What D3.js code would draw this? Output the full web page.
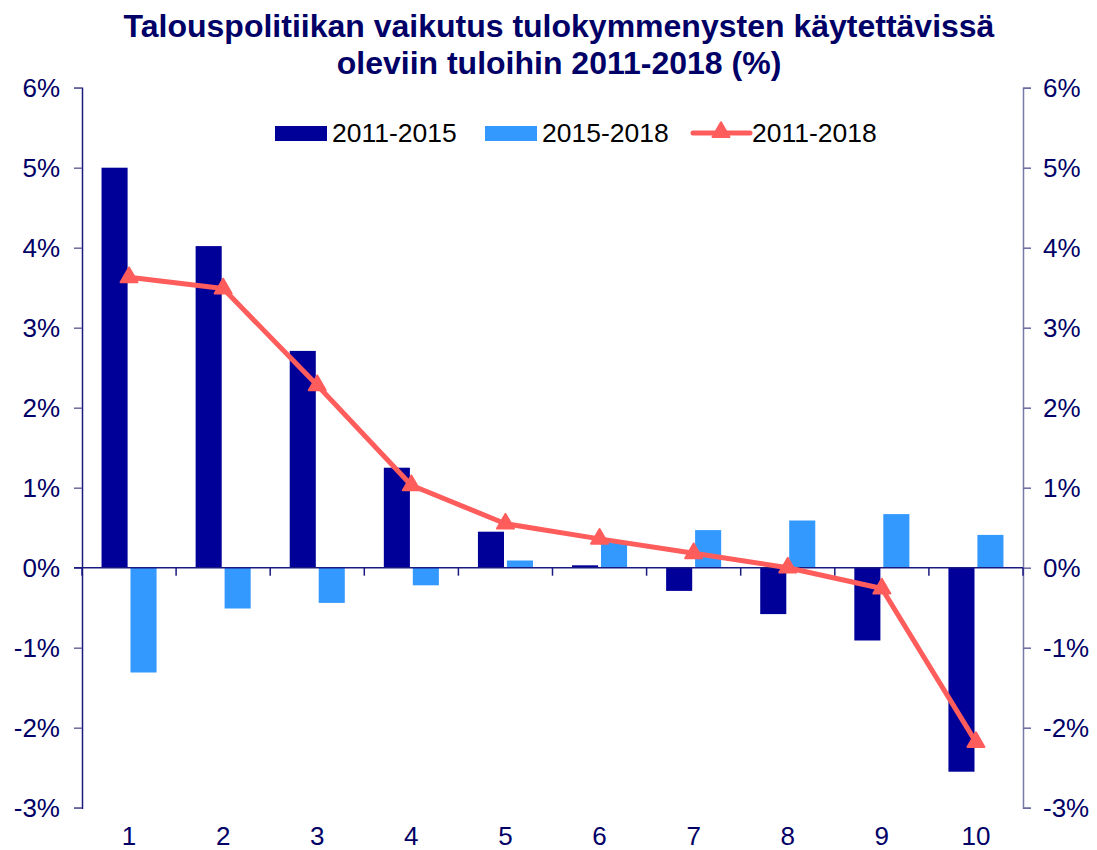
<!DOCTYPE html>
<html>
<head>
<meta charset="utf-8">
<script src="https://cdn.jsdelivr.net/npm/d3@7"></script>
<style>
  body { margin: 0; background: #fff; }
  svg { font-family: "Liberation Sans", Arial, sans-serif; }
</style>
</head>
<body>
<div id="chart"></div>
<script>
// deciles and the three series (%)
var deciles = ["1", "2", "3", "4", "5", "6", "7", "8", "9", "10"];
var v2011_2015 = [5.0, 4.02, 2.71, 1.25, 0.45, 0.03, -0.29, -0.58, -0.91, -2.55];
var v2015_2018 = [-1.31, -0.51, -0.44, -0.22, 0.09, 0.33, 0.47, 0.59, 0.67, 0.41];
var v2011_2018 = [3.63, 3.49, 2.28, 1.03, 0.55, 0.36, 0.18, 0.0, -0.26, -2.18];
var yTicks = [-3, -2, -1, 0, 1, 2, 3, 4, 5, 6];
var seriesNames = ["2011-2015", "2015-2018", "2011-2018"];

var W = 1097, H = 850;
var margin = {top: 87.7, right: 74, bottom: 42.3, left: 82};
var darkBlue = "#000099", lightBlue = "#3399ff", lineRed = "#ff5c5c", navy = "#000066";

var svg = d3.select("#chart").append("svg")
    .attr("width", W)
    .attr("height", H);

var x0 = d3.scaleBand()
    .domain(deciles)
    .range([margin.left, W - margin.right])
    .paddingInner(0.415)
    .paddingOuter(0.2075);

var x1 = d3.scaleBand()
    .domain(seriesNames.slice(0, 2))
    .range([0, x0.bandwidth()])
    .paddingInner(0.1);

var y = d3.scaleLinear()
    .domain([-3, 6])
    .range([H - margin.bottom, margin.top]);

// title
var title = svg.append("text")
    .attr("x", 559)
    .attr("text-anchor", "middle")
    .style("font-weight", "bold")
    .style("font-size", "32px")
    .style("fill", navy);
title.append("tspan").attr("x", 559).attr("y", 37).text("Talouspolitiikan vaikutus tulokymmenysten käytettävissä");
title.append("tspan").attr("x", 559).attr("y", 74).text("oleviin tuloihin 2011-2018 (%)");

// left axis
var fmt = function (d) { return d + "%"; };
var gL = svg.append("g")
    .attr("transform", "translate(" + margin.left + ",0)")
    .call(d3.axisLeft(y).tickValues(yTicks).tickFormat(fmt).tickSize(8).tickPadding(14));
gL.select(".domain").attr("stroke", "#1a1a80").attr("stroke-width", 1.5);
gL.selectAll(".tick line").attr("stroke", "#6a6aa0").attr("stroke-width", 1.5);
gL.selectAll(".tick text").style("font-size", "26px").style("fill", navy).attr("x", -22);

// right axis
var gR = svg.append("g")
    .attr("transform", "translate(" + (W - margin.right) + ",0)")
    .call(d3.axisRight(y).tickValues(yTicks).tickFormat(fmt).tickSize(8).tickPadding(14));
gR.select(".domain").attr("stroke", "#7a7aaa").attr("stroke-width", 1.5);
gR.selectAll(".tick line").attr("stroke", "#6a6aa0").attr("stroke-width", 1.5);
gR.selectAll(".tick text").style("font-size", "26px").style("fill", navy).attr("x", 20);

// bars
var rows = deciles.map(function (d, i) {
    return {dec: d, vals: [v2011_2015[i], v2015_2018[i]]};
});
var colors = [darkBlue, lightBlue];

var groups = svg.append("g").selectAll("g")
    .data(rows)
    .enter().append("g")
    .attr("transform", function (d) { return "translate(" + x0(d.dec) + ",0)"; });

groups.selectAll("rect")
    .data(function (d) {
        return d.vals.map(function (v, j) { return {key: seriesNames[j], v: v, c: colors[j]}; });
    })
    .enter().append("rect")
    .attr("x", function (d) { return x1(d.key); })
    .attr("y", function (d) { return y(Math.max(0, d.v)); })
    .attr("width", x1.bandwidth())
    .attr("height", function (d) { return Math.abs(y(d.v) - y(0)); })
    .style("fill", function (d) { return d.c; });

// zero line with category ticks
var gX = svg.append("g")
    .attr("transform", "translate(0," + y(0) + ")");
gX.append("line")
    .attr("x1", margin.left - 8).attr("x2", W - margin.right)
    .attr("stroke", "#1a1a80").attr("stroke-width", 1.5);
var step = x0.step();
var bounds = d3.range(deciles.length + 1).map(function (i) { return margin.left + i * step; });
gX.selectAll(".ctick")
    .data(bounds)
    .enter().append("line")
    .attr("class", "ctick")
    .attr("x1", function (d) { return d; }).attr("x2", function (d) { return d; })
    .attr("y1", 0).attr("y2", 8)
    .attr("stroke", "#1a1a80").attr("stroke-width", 1.5);

// category labels
svg.append("g").selectAll("text")
    .data(deciles)
    .enter().append("text")
    .attr("x", function (d) { return x0(d) + x0.bandwidth() / 2; })
    .attr("y", 845)
    .attr("text-anchor", "middle")
    .style("font-size", "26px")
    .style("fill", navy)
    .text(function (d) { return d; });

// line series
var line = d3.line()
    .x(function (d, i) { return x0(deciles[i]) + x0.bandwidth() / 2; })
    .y(function (d) { return y(d); });

svg.append("path")
    .datum(v2011_2018)
    .attr("d", line)
    .attr("fill", "none")
    .attr("stroke", lineRed)
    .attr("stroke-width", 5)
    .attr("stroke-linejoin", "round");

var tri = d3.symbol().type(d3.symbolTriangle).size(125);
svg.append("g").selectAll("path")
    .data(v2011_2018)
    .enter().append("path")
    .attr("d", tri)
    .attr("transform", function (d, i) {
        return "translate(" + (x0(deciles[i]) + x0.bandwidth() / 2) + "," + y(d) + ")";
    })
    .attr("fill", lineRed)
    .attr("stroke", lineRed)
    .attr("stroke-width", 2)
    .attr("stroke-linejoin", "round");

// legend
var leg = svg.append("g");
var legItems = [
    {name: seriesNames[0], type: "bar", c: darkBlue, x: 275},
    {name: seriesNames[1], type: "bar", c: lightBlue, x: 485},
    {name: seriesNames[2], type: "line", c: lineRed, x: 693}
];
legItems.forEach(function (it) {
    if (it.type === "bar") {
        leg.append("rect").attr("x", it.x).attr("y", 126).attr("width", 52).attr("height", 15).style("fill", it.c);
    } else {
        leg.append("line").attr("x1", it.x).attr("x2", it.x + 57).attr("y1", 133).attr("y2", 133)
            .attr("stroke", it.c).attr("stroke-width", 5).attr("stroke-linecap", "round");
        leg.append("path").attr("d", tri).attr("transform", "translate(" + (it.x + 28) + ",132)")
            .attr("fill", it.c).attr("stroke", it.c).attr("stroke-width", 2).attr("stroke-linejoin", "round");
    }
    leg.append("text")
        .attr("x", it.x + (it.type === "bar" ? 57 : 59))
        .attr("y", 142)
        .style("font-size", "26.5px")
        .style("fill", "#000")
        .text(it.name);
});
</script>
</body>
</html>
